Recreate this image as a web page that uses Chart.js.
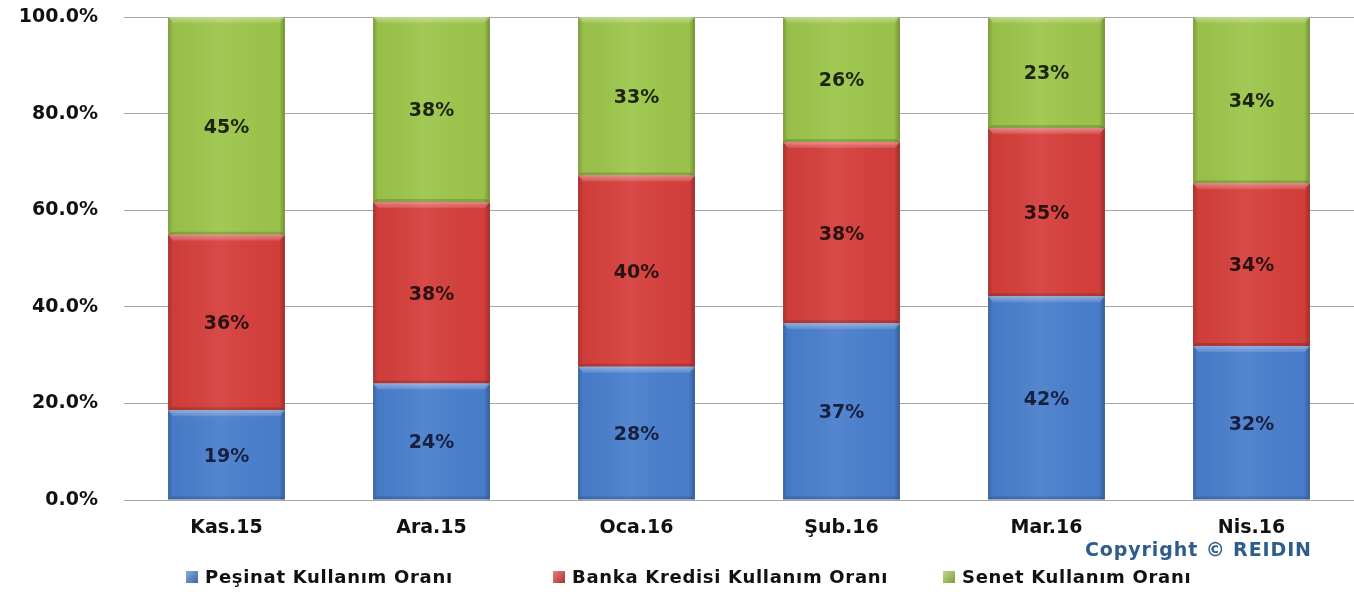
<!DOCTYPE html>
<html>
<head>
<meta charset="utf-8">
<script src="https://cdn.jsdelivr.net/npm/chart.js@4.4.1/dist/chart.umd.min.js"></script>
<style>
  html, body { margin: 0; padding: 0; background: #fff; }
  #wrap { position: relative; width: 1354px; height: 597px; }
  #copy { position: absolute; left: 1085px; top: 538px; font: bold 19px "DejaVu Sans", sans-serif; letter-spacing: 0.9px; color: #2e5d8c; white-space: nowrap; }
  #legend span.it { position: absolute; top: 566px; display: flex; align-items: center; font: bold 18px "DejaVu Sans", sans-serif; letter-spacing: 0.7px; color: #111; white-space: nowrap; }
  #legend i { display: inline-block; width: 12px; height: 12px; margin-right: 7px; }
</style>
</head>
<body>
<div id="wrap">
  <canvas id="c" width="1354" height="597"></canvas>
  <div id="copy">Copyright © REIDIN</div>
  <div id="legend"></div>
</div>
<script>
"use strict";
// --- dados -------------------------------------------------------------------
const MONTHS = ["Kas.15", "Ara.15", "Oca.16", "Şub.16", "Mar.16", "Nis.16"];
const PESINAT = [18.6, 24.1, 27.6, 36.6, 42.2, 31.9];
const BANKA = [36.3, 37.6, 39.6, 37.5, 34.8, 33.7];
const SENET = [45.1, 38.3, 32.8, 25.9, 23.0, 34.4];
const Y_TICKS = [0, 20, 40, 60, 80, 100];
const SERIES = ["Peşinat Kullanım Oranı", "Banka Kredisi Kullanım Oranı", "Senet Kullanım Oranı"];

const COLORS = ["#4a7fcd", "#d63f3c", "#9dc64b"];
const LABEL_COLORS = ["#16213f", "#2a1212", "#1c2410"];
const LEGEND_LEFT = [186, 553, 943]; // posição de cada item (px)

// --- plugins -----------------------------------------------------------------
const bevel = {
  id: "bevel",
  afterDatasetsDraw(chart) {
    const ctx = chart.ctx;
    chart.data.datasets.forEach((ds, di) => {
      chart.getDatasetMeta(di).data.forEach((b) => {
        const x0 = b.x - b.width / 2, x1 = b.x + b.width / 2;
        const top = Math.min(b.y, b.base), bot = Math.max(b.y, b.base);
        const h = bot - top;
        ctx.save();
        const g = ctx.createLinearGradient(x0, 0, x1, 0);
        g.addColorStop(0, "rgba(0,0,0,0.22)");
        g.addColorStop(0.04, "rgba(0,0,0,0.04)");
        g.addColorStop(0.45, "rgba(255,255,255,0.06)");
        g.addColorStop(0.95, "rgba(0,0,0,0.02)");
        g.addColorStop(1, "rgba(0,0,0,0.28)");
        ctx.fillStyle = g;
        ctx.fillRect(x0, top, b.width, h);
        // faixa clara no topo (chanfro)
        const tg = ctx.createLinearGradient(0, top, 0, top + 6);
        tg.addColorStop(0, "rgba(255,255,255,0.38)");
        tg.addColorStop(1, "rgba(255,255,255,0.1)");
        ctx.fillStyle = tg;
        ctx.beginPath();
        ctx.moveTo(x0, top); ctx.lineTo(x1, top);
        ctx.lineTo(x1 - 5, top + 6); ctx.lineTo(x0 + 5, top + 6);
        ctx.closePath(); ctx.fill();
        // sombra embaixo
        ctx.fillStyle = "rgba(0,0,0,0.15)";
        ctx.beginPath();
        ctx.moveTo(x0 + 4, bot - 3); ctx.lineTo(x1 - 4, bot - 3);
        ctx.lineTo(x1, bot); ctx.lineTo(x0, bot);
        ctx.closePath(); ctx.fill();
        ctx.restore();
      });
    });
  }
};

const valueLabels = {
  id: "valueLabels",
  afterDatasetsDraw(chart) {
    const ctx = chart.ctx;
    ctx.save();
    ctx.font = "bold 19px 'DejaVu Sans', sans-serif";
    ctx.textAlign = "center";
    ctx.textBaseline = "middle";
    chart.data.datasets.forEach((ds, di) => {
      ctx.fillStyle = LABEL_COLORS[di];
      chart.getDatasetMeta(di).data.forEach((b, i) => {
        ctx.fillText(Math.round(ds.data[i]) + "%", b.x, (b.y + b.base) / 2 + 2);
      });
    });
    ctx.restore();
  }
};

// --- gráfico -----------------------------------------------------------------
const seriesData = [PESINAT, BANKA, SENET];
new Chart(document.getElementById("c"), {
  type: "bar",
  data: {
    labels: MONTHS,
    datasets: SERIES.map((s, i) => ({
      label: s, data: seriesData[i], backgroundColor: COLORS[i],
      borderWidth: 0, categoryPercentage: 1, barPercentage: 0.57
    }))
  },
  options: {
    responsive: false, animation: false,
    layout: { padding: { top: 17, right: 0, left: 0, bottom: 0 } },
    plugins: { legend: { display: false }, tooltip: { enabled: false } },
    scales: {
      x: {
        stacked: true,
        grid: { display: false },
        border: { display: false },
        ticks: { color: "#111", padding: 9, font: { family: "DejaVu Sans", weight: "bold", size: 19 } },
        afterFit: (s) => { s.height = 97; }
      },
      y: {
        stacked: true, min: 0, max: 100,
        afterBuildTicks: (s) => { s.ticks = Y_TICKS.map((v) => ({ value: v })); },
        grid: { color: "#a6a6a6", drawTicks: false, lineWidth: 1 },
        border: { display: false },
        ticks: {
          color: "#111", padding: 26,
          font: { family: "DejaVu Sans", weight: "bold", size: 19, lineHeight: 0.5 },
          callback: (v) => v.toFixed(1) + "%"
        },
        afterFit: (s) => { s.width = 124; s.paddingTop = 0; }
      }
    }
  },
  plugins: [bevel, valueLabels]
});

// legenda
const lg = document.getElementById("legend");
SERIES.forEach((s, i) => {
  lg.insertAdjacentHTML("beforeend",
    `<span class="it" style="left:${LEGEND_LEFT[i]}px"><i style="background:linear-gradient(135deg, rgba(255,255,255,.35), rgba(0,0,0,.2)), ${COLORS[i]}"></i>${s}</span>`);
});
</script>
</body>
</html>
